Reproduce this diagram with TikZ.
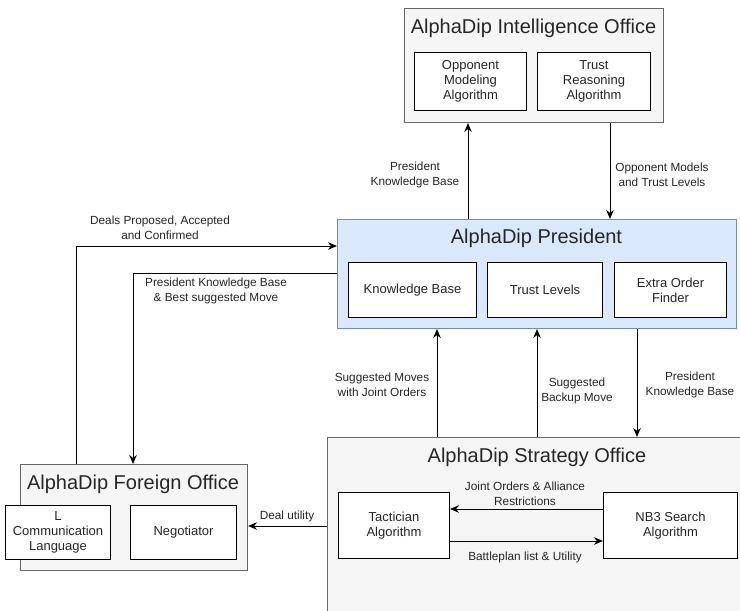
\documentclass[tikz,border=0pt]{standalone}
\usepackage{fontspec}
\setmainfont{Liberation Sans}
\usetikzlibrary{arrows.meta}
\definecolor{offfill}{HTML}{F5F5F5}
\definecolor{offdraw}{HTML}{666666}
\definecolor{presfill}{HTML}{DAE8FC}
\definecolor{presdraw}{HTML}{6C8EBF}
\begin{document}
\begin{tikzpicture}[x=1pt,y=-1pt,
  office/.style={rectangle, draw=offdraw, fill=offfill, line width=1pt, inner sep=0pt, anchor=north west},
  presbox/.style={rectangle, draw=presdraw, fill=presfill, line width=1pt, inner sep=0pt, anchor=north west},
  inbox/.style={rectangle, draw=black, fill=white, line width=1pt, align=center, inner sep=0pt, anchor=north west, font=\fontsize{13}{15}\selectfont, text=black!85},
  title/.style={font=\fontsize{20}{24}\selectfont, text=black!85, inner sep=0pt},
  lbl/.style={font=\fontsize{11.8}{15}\selectfont, align=center, inner sep=0pt, text=black!85},
  arr/.style={-{Stealth[length=9pt,width=7.5pt]}, line width=1pt}]
\useasboundingbox (0,0) rectangle (740,611);
\clip (0,0) rectangle (740,611);
\fill[white] (0,0) rectangle (740,611);

% Offices
\node[office, minimum width=259pt, minimum height=114pt] (intel) at (404,8) {};
\node[title] (inteltitle) at (533.5,28) {AlphaDip Intelligence Office};
\node[inbox, minimum width=112pt, minimum height=58pt] (opp) at (414,52) {Opponent\\Modeling\\Algorithm};
\node[inbox, minimum width=113pt, minimum height=58pt] (trr) at (537,52) {Trust\\Reasoning\\Algorithm};

\node[presbox, minimum width=399pt, minimum height=109pt] (pres) at (337,219) {};
\node[title] (prestitle) at (536.5,238) {AlphaDip President};
\node[inbox, minimum width=128pt, minimum height=55pt] (kb) at (348,262) {Knowledge Base};
\node[inbox, minimum width=115pt, minimum height=55pt] (tl) at (487,262) {Trust Levels};
\node[inbox, minimum width=112pt, minimum height=55pt] (eof) at (614,262) {Extra Order\\Finder};

\node[office, minimum width=450pt, minimum height=250pt] (strat) at (327,437) {};
\node[title] (strattitle) at (537,457) {AlphaDip Strategy Office};
\node[inbox, minimum width=111pt, minimum height=66pt] (tact) at (338,492) {Tactician\\Algorithm};
\node[inbox, minimum width=134pt, minimum height=66pt] (nb3) at (603,492) {NB3 Search\\Algorithm};

\node[office, minimum width=227pt, minimum height=106pt] (foreign) at (20,464) {};
\node[title] (fortitle) at (133,484) {AlphaDip Foreign Office};
\node[inbox, minimum width=105pt, minimum height=54pt] (lang) at (5,505) {L\\Communication\\Language};
\node[inbox, minimum width=106pt, minimum height=54pt] (neg) at (130,505) {Negotiator};

% Connectors
\draw[arr] ([xshift=131pt]pres.north west) -- ([xshift=64pt]intel.south west);
\draw[arr] ([xshift=206pt]intel.south west) -- ([xshift=273pt]pres.north west);
\draw[arr] ([xshift=56pt]foreign.north west) |- ([yshift=-27pt]pres.north west);
\draw[arr] ([yshift=-54pt]pres.north west) -| ([xshift=113pt]foreign.north west);
\draw[arr] ([xshift=110pt]strat.north west) -- ([xshift=100pt]pres.south west);
\draw[arr] ([xshift=210pt]strat.north west) -- ([xshift=200pt]pres.south west);
\draw[arr] ([xshift=300pt]pres.south west) -- ([xshift=310pt]strat.north west);
\draw[arr] ([yshift=-89pt]strat.north west) -- ([yshift=-62pt]foreign.north east);
\draw[arr] ([yshift=-17pt]nb3.north west) -- ([yshift=-17pt]tact.north east);
\draw[arr] ([yshift=-49pt]tact.north east) -- ([yshift=-49pt]nb3.north west);

% Labels
\node[lbl] (l1) at (415,175) {President\\Knowledge Base};
\node[lbl] (l2) at (662,175) {Opponent Models\\and Trust Levels};
\node[lbl] (l3) at (160,228) {Deals Proposed, Accepted\\and Confirmed};
\node[lbl] (l4) at (216,291) {President Knowledge Base\\\& Best suggested Move};
\node[lbl] (l5) at (382,385) {Suggested Moves\\with Joint Orders};
\node[lbl] (l6) at (577,391) {Suggested\\Backup Move};
\node[lbl] (l7) at (690,385) {President\\Knowledge Base};
\node[lbl] (l8) at (525,494) {Joint Orders \& Alliance\\Restrictions};
\node[lbl] (l9) at (525,557) {Battleplan list \& Utility};
\node[lbl] (l10) at (287,516) {Deal utility};
\end{tikzpicture}
\end{document}
